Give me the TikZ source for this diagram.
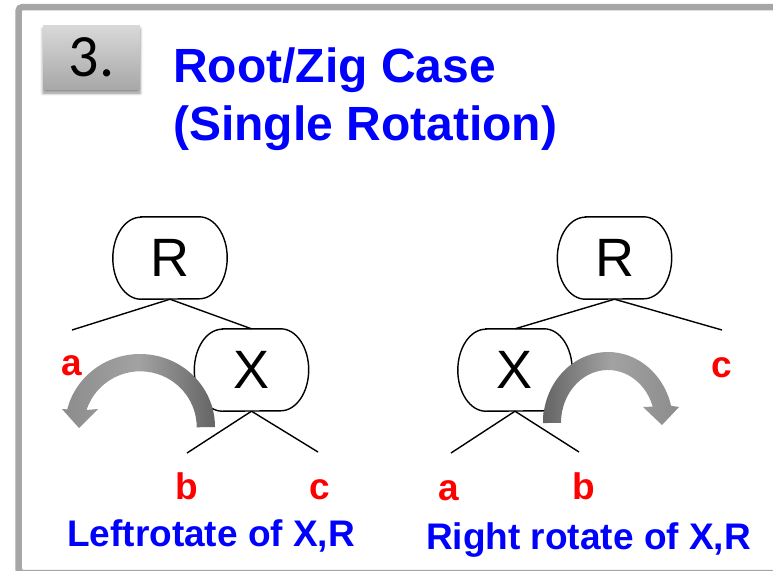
\documentclass[tikz,border=0pt]{standalone}
\usepackage{fontspec}
\setmainfont{Liberation Sans}
\newfontfamily\calibfont{Carlito}
\usetikzlibrary{shadows,shadows.blur,backgrounds}
\definecolor{framegray}{RGB}{166,166,166}
\definecolor{ttlblue}{RGB}{0,0,255}
\definecolor{lblred}{RGB}{255,0,0}
\definecolor{arrlight}{RGB}{140,140,140}
\definecolor{arrmid}{RGB}{162,162,162}
\definecolor{arrdark}{RGB}{100,100,100}
\definecolor{boxtop}{RGB}{217,217,217}
\definecolor{boxbot}{RGB}{168,168,168}
\newcommand\termshape[1]{%
  \draw[line width=1.4pt,fill=white]
    ([xshift=28pt]#1.north west) -- ([xshift=-28pt]#1.north east)
    arc[start angle=90,end angle=-90,x radius=28,y radius=41]
    -- ([xshift=28pt]#1.south west)
    arc[start angle=270,end angle=90,x radius=28,y radius=41] -- cycle;}
\begin{document}
\begin{tikzpicture}[x=1pt,y=1pt,
  title/.style={text=ttlblue,font=\fontsize{48}{50}\selectfont\bfseries,inner sep=0,anchor=base west},
  caption/.style={text=ttlblue,font=\fontsize{37}{40}\selectfont\bfseries,inner sep=0,anchor=base west},
  sublbl/.style={text=lblred,font=\fontsize{37}{40}\selectfont\bfseries,inner sep=0,anchor=base},
  tnode/.style={minimum width=114pt,minimum height=82pt,inner sep=0,font=\fontsize{54}{56}\selectfont},
  edge/.style={line width=1.4pt},
  numbox/.style={minimum width=97pt,minimum height=64pt,inner sep=0,
    top color=boxtop,bottom color=boxbot,
    blur shadow={shadow xshift=0pt,shadow yshift=-4pt,shadow blur radius=3pt,shadow opacity=45},
    font=\calibfont\fontsize{60}{62}\selectfont},
  rotarrow/.style={middle color=arrmid}
]
\useasboundingbox (0,0) rectangle (773,-570);
\begin{scope}
  \clip (0,0) rectangle (773,-570);
  \draw[framegray,line width=6.5pt,rounded corners=4pt] (18.5,-7) rectangle (790,-573);
\end{scope}

% number box
\node[numbox] (num) at (91.5,-57) {3.};

% title
\node[title] (t1) at (173,-82) {Root/Zig Case};
\node[title] (t2) at (173,-140) {(Single Rotation)};

% left tree
\node[tnode] (R1) at (170,-258) {R};
\node[tnode] (X1) at (251.5,-370) {X};
% right tree
\node[tnode] (R2) at (614.5,-258) {R};
\node[tnode] (X2) at (515,-370) {X};

\begin{pgfonlayer}{background}
  \termshape{R1}
  \termshape{X1}
  \termshape{R2}
  \termshape{X2}
\end{pgfonlayer}

\coordinate (la) at (72,-330);
\coordinate (lb) at (187,-453);
\coordinate (lc) at (318,-452);
\coordinate (rc) at (722,-330);
\coordinate (ra) at (451,-453);
\coordinate (rb) at (579,-452);

\draw[edge] (R1.south) -- (la);
\draw[edge] (R1.south) -- (X1.north);
\draw[edge] (X1.south) -- (lb);
\draw[edge] (X1.south) -- (lc);
\draw[edge] (R2.south) -- (X2.north);
\draw[edge] (R2.south) -- (rc);
\draw[edge] (X2.south) -- (ra);
\draw[edge] (X2.south) -- (rb);

% subtree labels
\node[sublbl] (a1) at (72,-375) {a};
\node[sublbl] (b1) at (187,-499) {b};
\node[sublbl] (c1) at (320,-499) {c};
\node[sublbl] (a2) at (449,-500) {a};
\node[sublbl] (b2) at (584,-499) {b};
\node[sublbl] (c2) at (722,-377) {c};

% rotation arrows
\shade[left color=arrlight,right color=arrdark,rotarrow]
  (215,-427) arc[start angle=0,end angle=166,x radius=75,y radius=73]
  -- (62,-409) -- (79,-428) -- (98,-409) -- (86.5,-410)
  arc[start angle=162,end angle=0,x radius=56.5,y radius=56] -- cycle;
\shade[left color=arrdark,right color=arrlight,rotarrow]
  (543,-423) arc[start angle=180,end angle=14,x radius=65,y radius=71]
  -- (679,-407) -- (662,-425) -- (643,-407) -- (652.7,-406.6)
  arc[start angle=18,end angle=180,x radius=47,y radius=53] -- cycle;

% captions
\node[caption] (cap1) at (67,-546) {Leftrotate of X,R};
\node[caption] (cap2) at (426,-549) {Right rotate of X,R};
\end{tikzpicture}
\end{document}
